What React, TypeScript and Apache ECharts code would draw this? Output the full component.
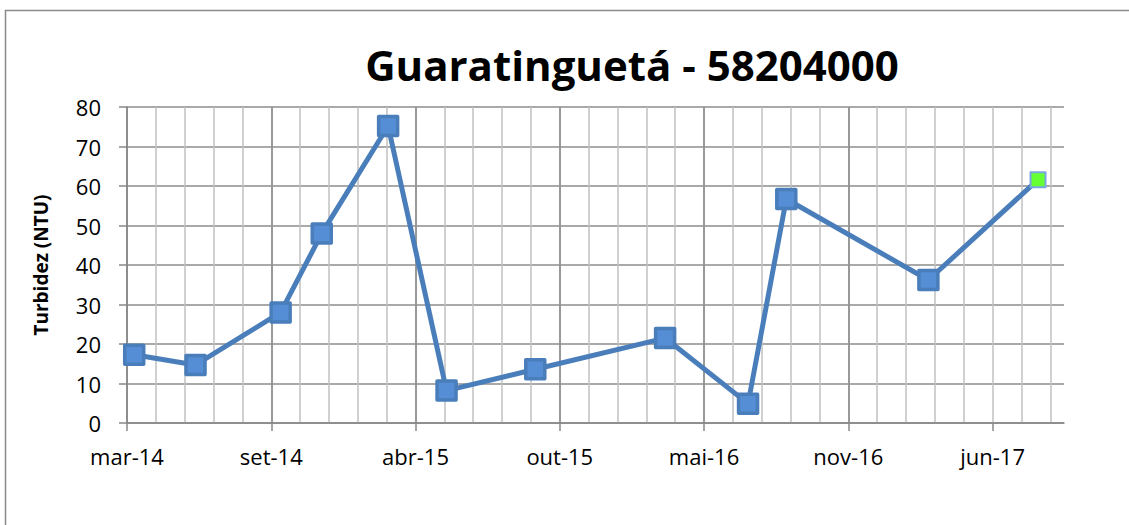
import React, { useEffect, useRef } from 'react';
import * as echarts from 'echarts';

// ---- data ----
const axisStartDate = '2014-03-01'; // day 0 of the date axis
const axisMaxDays = 1299;
const majorStepDays = 200;
const minorStepDays = 40;
const sampleDates = [
  '2014-03-11', '2014-06-04', '2014-09-30', '2014-11-26', '2015-02-26', '2015-05-18',
  '2015-09-18', '2016-03-16', '2016-07-09', '2016-08-31', '2017-03-16', '2017-08-15',
];
const turbidity = [17.3, 14.7, 28.0, 48.0, 75.2, 8.2, 13.6, 21.5, 4.9, 56.7, 36.2, 61.6];
const monthNames = ['jan', 'fev', 'mar', 'abr', 'mai', 'jun', 'jul', 'ago', 'set', 'out', 'nov', 'dez'];
const yMin = 0;
const yMax = 80;
const yStep = 10;
const titleText = 'Guaratinguetá - 58204000';
const yAxisTitle = 'Turbidez (NTU)';

const DAY = 86400000;
const startMs = Date.parse(axisStartDate + 'T00:00:00Z');
const toDays = (d: string) => Math.round((Date.parse(d + 'T00:00:00Z') - startMs) / DAY);
const fmtDay = (v: number) => {
  const dt = new Date(startMs + v * DAY);
  return monthNames[dt.getUTCMonth()] + '-' + String(dt.getUTCFullYear() % 100).padStart(2, '0');
};
const majorTicks: number[] = [];
for (let v = 0; v <= axisMaxDays; v += majorStepDays) majorTicks.push(v);

const FONT = '"Open Sans", sans-serif';

export default function App() {
  const ref = useRef<HTMLDivElement>(null);
  useEffect(() => {
    if (!ref.current) return;
    const chart = echarts.init(ref.current, null, { renderer: 'svg' });
    const seriesData = sampleDates.map((d, i) => {
      const item: any = { value: [toDays(d), turbidity[i]] };
      if (i === sampleDates.length - 1) {
        item.symbolSize = 15;
        item.itemStyle = { color: '#66ff33', borderColor: '#7aa7e0', borderWidth: 2 };
      }
      return item;
    });
    chart.setOption({
      animation: false,
      backgroundColor: '#ffffff',
      textStyle: { fontFamily: FONT },
      graphic: [
        {
          type: 'rect',
          shape: { x: 5.5, y: 10.5, width: 1200, height: 600 },
          style: { fill: 'none', stroke: '#8a8a8a', lineWidth: 1.5 },
          silent: true,
        },
        {
          type: 'text',
          x: 632,
          y: 64,
          style: {
            text: titleText,
            fontFamily: FONT,
            fontWeight: 'bold',
            fontSize: 42,
            fill: '#000',
            textAlign: 'center',
            textVerticalAlign: 'middle',
          },
        },
      ],
      grid: { left: 127, right: 65, top: 107, bottom: 102 },
      xAxis: [
        {
          type: 'value',
          position: 'top',
          min: 0,
          max: axisMaxDays,
          interval: minorStepDays,
          axisLine: { show: false },
          axisTick: { show: false },
          axisLabel: { show: false },
          splitLine: {
            show: true,
            showMinLine: false,
            showMaxLine: false,
            lineStyle: { color: '#c0c0c0', width: 1.5 },
          },
        },
        {
          type: 'value',
          position: 'bottom',
          min: 0,
          max: axisMaxDays,
          interval: majorStepDays,
          axisLine: { show: true, lineStyle: { color: '#878787', width: 1.5 } },
          axisTick: {
            show: true,
            length: 8,
            customValues: majorTicks,
            lineStyle: { color: '#878787', width: 1.5 },
          },
          axisLabel: {
            show: true,
            showMaxLabel: false,
            margin: 22,
            fontSize: 22,
            color: '#000',
            fontFamily: FONT,
            formatter: (v: number) => (v % majorStepDays === 0 ? fmtDay(v) : ''),
          },
          splitLine: {
            show: true,
            showMaxLine: false,
            lineStyle: { color: '#878787', width: 1.5 },
          },
        },
      ],
      yAxis: {
        type: 'value',
        min: yMin,
        max: yMax,
        interval: yStep,
        name: yAxisTitle,
        nameLocation: 'middle',
        nameRotate: 90,
        nameGap: 77,
        nameTextStyle: { fontFamily: FONT, fontWeight: 'bold', fontSize: 19, color: '#000' },
        axisLine: { show: true, lineStyle: { color: '#878787', width: 1.5 } },
        axisTick: { show: true, length: 8, lineStyle: { color: '#878787', width: 1.5 } },
        axisLabel: { margin: 26, fontSize: 22, color: '#000', fontFamily: FONT },
        splitLine: { show: true, lineStyle: { color: '#8c8c8c', width: 1.5 } },
      },
      series: [
        {
          type: 'line',
          xAxisIndex: 1,
          data: seriesData,
          symbol: 'rect',
          symbolSize: 19,
          lineStyle: { color: '#4a7ebb', width: 5, join: 'round' },
          itemStyle: { color: '#558ed5', borderColor: '#4a7ebb', borderWidth: 3.5, borderJoin: 'round' },
          z: 5,
        },
      ],
    });
    return () => chart.dispose();
  }, []);
  return (
    <div
      ref={ref}
      style={{ position: 'fixed', left: 0, top: 0, width: 1129, height: 525 }}
    />
  );
}
